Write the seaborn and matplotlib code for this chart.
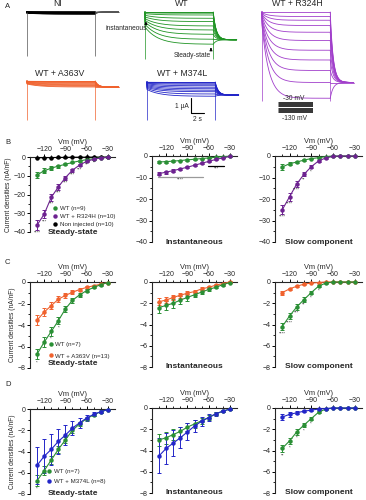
import numpy as np
import pandas as pd
import matplotlib
matplotlib.use("Agg")
import matplotlib.pyplot as plt
from matplotlib.lines import Line2D
import seaborn as sns

# ---- data --------------------------------------------------------------
VM = [-130, -120, -110, -100, -90, -80, -70, -60, -50, -40, -30]

# panel A: trace amplitudes in uA (positive = inward, drawn downward)
ni_inst = [0.06, 0.05, 0.05, 0.04, 0.03, 0.03, 0.02, 0.02, 0.01, 0.0, 0.0]
ni_steady = [0.13, 0.11, 0.1, 0.08, 0.07, 0.05, 0.04, 0.03, 0.02, 0.01, 0.0]
wt_inst = [1.0, 0.82, 0.67, 0.55, 0.44, 0.33, 0.22, 0.11, 0.05, 0.02, 0.0]
wt_steady = [2.15, 1.82, 1.49, 1.2, 0.93, 0.64, 0.42, 0.2, 0.08, 0.02, 0.0]
r324h_inst = [0.9, 0.75, 0.6, 0.5, 0.4, 0.3, 0.2, 0.15, 0.1, 0.05, 0.0]
r324h_steady = [5.75, 4.7, 3.9, 3.2, 2.55, 1.9, 1.35, 0.9, 0.55, 0.3, 0.0]
a363v_inst = [0.2, 0.17, 0.15, 0.12, 0.1, 0.08, 0.06, 0.04, 0.02, 0.01, 0.0]
a363v_steady = [0.4, 0.35, 0.3, 0.25, 0.2, 0.15, 0.1, 0.06, 0.03, 0.01, 0.0]
m374l_inst = [0.5, 0.42, 0.36, 0.3, 0.24, 0.18, 0.12, 0.08, 0.04, 0.02, 0.0]
m374l_steady = [0.95, 0.8, 0.65, 0.55, 0.45, 0.35, 0.25, 0.15, 0.08, 0.03, 0.0]
tail_level = {"NI": 0.0, "WT": 1.85, "R324H": 4.7, "A363V": 0.4, "M374L": 0.87}
tau_act = {"NI": 2.0, "WT": 2.0, "R324H": 1.1, "A363V": 2.0, "M374L": 2.0}
cap_spike = {"NI": 2.9, "WT": 3.1, "R324H": 5.9, "A363V": 2.6, "M374L": 2.5}
PROTOCOL_MV = [-130, -120, -110, -100, -90, -80, -70, -60, -50, -40, -30]

# panel B (nA/nF)
b_ss_wt = [-9.6, -7.3, -6.0, -4.8, -3.9, -2.9, -2.1, -1.4, -0.9, -0.4, -0.2]
b_ss_wt_sem = [1.8, 1.3, 1.0, 0.8, 0.6, 0.5, 0.4, 0.3, 0.2, 0.1, 0.1]
b_ss_mut = [-36.3, -30.5, -21.5, -16.0, -11.0, -7.0, -4.3, -2.3, -1.2, -0.5, -0.2]
b_ss_mut_sem = [2.5, 2.2, 1.8, 1.4, 1.1, 0.8, 0.6, 0.4, 0.3, 0.2, 0.1]
b_ss_ni = [-0.4, -0.35, -0.3, -0.25, -0.2, -0.15, -0.1, -0.1, -0.05, -0.05, 0.0]
b_ss_ni_sem = [0.15, 0.1, 0.1, 0.1, 0.1, 0.05, 0.05, 0.05, 0.05, 0.05, 0.0]
b_in_wt = [-2.8, -2.6, -2.4, -2.1, -1.8, -1.5, -1.2, -0.9, -0.6, -0.3, -0.1]
b_in_wt_sem = [0.5, 0.45, 0.4, 0.35, 0.3, 0.25, 0.2, 0.15, 0.1, 0.1, 0.05]
b_in_mut = [-8.2, -7.5, -6.8, -6.0, -5.2, -4.3, -3.4, -2.5, -1.6, -0.9, -0.2]
b_in_mut_sem = [0.8, 0.7, 0.6, 0.55, 0.5, 0.45, 0.4, 0.3, 0.2, 0.15, 0.1]
b_sl_wt = [-5.1, -3.6, -2.8, -1.9, -1.2, -0.8, -0.3, 0.0, 0.0, 0.0, 0.0]
b_sl_wt_sem = [1.2, 0.8, 0.6, 0.4, 0.3, 0.2, 0.1, 0.0, 0.0, 0.0, 0.0]
b_sl_mut = [-25.0, -19.0, -13.0, -8.5, -5.0, -2.3, -0.9, -0.2, 0.0, 0.0, 0.0]
b_sl_mut_sem = [2.0, 1.7, 1.3, 1.0, 0.8, 0.5, 0.3, 0.1, 0.0, 0.0, 0.0]

# panel C
c_ss_wt = [-6.7, -5.6, -4.6, -3.6, -2.5, -1.7, -1.2, -0.8, -0.5, -0.25, -0.05]
c_ss_wt_sem = [0.5, 0.45, 0.4, 0.35, 0.3, 0.25, 0.2, 0.15, 0.1, 0.08, 0.05]
c_ss_mut = [-3.55, -2.8, -2.2, -1.6, -1.25, -0.95, -0.7, -0.5, -0.35, -0.2, -0.05]
c_ss_mut_sem = [0.45, 0.4, 0.35, 0.3, 0.25, 0.2, 0.15, 0.12, 0.1, 0.08, 0.05]
c_in_wt = [-2.4, -2.2, -2.0, -1.7, -1.45, -1.2, -0.95, -0.7, -0.5, -0.25, -0.05]
c_in_wt_sem = [0.5, 0.45, 0.4, 0.35, 0.3, 0.25, 0.2, 0.15, 0.1, 0.08, 0.05]
c_in_mut = [-1.85, -1.7, -1.45, -1.25, -1.05, -0.9, -0.65, -0.5, -0.3, -0.15, 0.0]
c_in_mut_sem = [0.3, 0.28, 0.25, 0.22, 0.2, 0.18, 0.15, 0.12, 0.1, 0.08, 0.05]
c_sl_wt = [-4.2, -3.2, -2.35, -1.65, -1.0, -0.4, -0.1, 0.0, 0.0, 0.0, 0.0]
c_sl_wt_sem = [0.35, 0.3, 0.25, 0.2, 0.15, 0.1, 0.05, 0.0, 0.0, 0.0, 0.0]
c_sl_mut = [-1.0, -0.65, -0.4, -0.2, -0.1, -0.05, 0.0, 0.0, 0.0, 0.0, 0.0]
c_sl_mut_sem = [0.2, 0.12, 0.08, 0.05, 0.04, 0.03, 0.0, 0.0, 0.0, 0.0, 0.0]

# panel D
d_ss_wt = [-6.75, -5.8, -4.8, -3.8, -2.9, -2.0, -1.4, -0.9, -0.55, -0.25, -0.05]
d_ss_wt_sem = [0.5, 0.45, 0.4, 0.35, 0.3, 0.25, 0.2, 0.15, 0.1, 0.08, 0.05]
d_ss_mut = [-5.3, -4.45, -3.8, -3.05, -2.45, -1.8, -1.3, -0.85, -0.5, -0.25, -0.05]
d_ss_mut_sem = [1.75, 1.6, 1.45, 1.2, 0.9, 0.65, 0.45, 0.3, 0.2, 0.12, 0.05]
d_in_wt = [-3.0, -2.8, -2.5, -2.2, -1.8, -1.5, -1.2, -0.9, -0.55, -0.3, -0.1]
d_in_wt_sem = [0.6, 0.55, 0.5, 0.45, 0.4, 0.35, 0.3, 0.2, 0.15, 0.1, 0.05]
d_in_mut = [-4.5, -3.8, -3.3, -2.8, -2.25, -1.7, -1.25, -0.9, -0.55, -0.3, -0.1]
d_in_mut_sem = [1.65, 1.45, 1.2, 1.0, 0.8, 0.6, 0.45, 0.3, 0.2, 0.12, 0.05]
d_sl_wt = [-3.8, -3.1, -2.25, -1.6, -1.0, -0.4, -0.1, 0.0, 0.0, 0.0, 0.0]
d_sl_wt_sem = [0.35, 0.3, 0.25, 0.2, 0.15, 0.1, 0.05, 0.0, 0.0, 0.0, 0.0]
d_sl_mut = [-0.85, -0.6, -0.45, -0.3, -0.2, -0.1, -0.05, 0.0, 0.0, 0.0, 0.0]
d_sl_mut_sem = [0.3, 0.2, 0.15, 0.1, 0.08, 0.05, 0.03, 0.0, 0.0, 0.0, 0.0]

# significance stars under points
b_ss_stars = ["****", "***", "***", "***", "***", "***", "***", "**", "*", "", ""]
b_sl_stars = ["****", "****", "****", "**", "*", "", "", "", "", "", ""]
c_ss_stars = ["*", "", "*", "*", "", "", "", "", "", "", ""]
c_sl_stars = ["****", "****", "***", "**", "*", "*", "", "", "", "", ""]
d_ss_stars = ["*", "", "", "", "", "", "", "", "", "", ""]
d_sl_stars = ["**", "*", "*", "*", "*", "", "", "", "", "", ""]
# B instantaneous comparison bars: (from mV, to mV, level, stars, colour)
b_in_bars = [(-131, -68, -9.8, "****", "#9a9a9a"), (-61, -38, -4.6, "***", "black")]

GREEN = "#2a8f35"
PURPLE = "#6d2290"
ORANGE = "#f0622e"
BLUE = "#2326c8"
TR_GREEN = "#1f9424"
TR_PURPLE = "#a13fcb"

# ---- figure ------------------------------------------------------------
sns.set_theme(style="ticks")
plt.rcParams["font.family"] = ["Liberation Sans", "DejaVu Sans"]
plt.rcParams["axes.linewidth"] = 0.8

W, H = 366, 500
fig = plt.figure(figsize=(W / 100, H / 100), dpi=100)
fig.patch.set_facecolor("white")


def px_axes(left, top, right, bottom):
    ax = fig.add_axes([left / W, 1 - bottom / H, (right - left) / W, (bottom - top) / H])
    ax.set_facecolor("none")
    return ax


def ftext(x, y, s, **kw):
    fig.text(x / W, 1 - y / H, s, **kw)


# ---- panel A: current traces --------------------------------------------
PX_S, PX_UA = 6.5, 15.0
T_PULSE, T_TAIL = 10.5, 3.6
t_on = np.linspace(0, T_PULSE, 200)
t_off = np.linspace(T_PULSE, T_PULSE + T_TAIL, 80)


def trace_axes(ox, oy):
    x0, x1, y0, y1 = -1.0, 15.0, -6.5, 0.5
    ax = px_axes(ox + x0 * PX_S, oy - y1 * PX_UA, ox + x1 * PX_S, oy - y0 * PX_UA)
    ax.set_xlim(x0, x1)
    ax.set_ylim(y0, y1)
    ax.axis("off")
    return ax


def draw_traces(ax, key, inst, steady, color, lw=0.6, tail_lw=None, tail_color=None):
    tau = tau_act[key]
    for a0, a1 in zip(inst, steady):
        on = -(a1 + (a0 - a1) * np.exp(-t_on / tau))
        off = -(tail_level[key] + (a1 - tail_level[key]) * np.exp(-(t_off - T_PULSE) / 0.45))
        ax.plot(np.r_[0, t_on], np.r_[0, on], color=color, lw=lw)
        ax.plot(t_off, off, color=tail_color or color, lw=tail_lw or lw)
    ax.vlines([0, T_PULSE], -cap_spike[key], 0, color=tail_color or color, lw=0.5)


ax_ni = trace_axes(27, 12)
draw_traces(ax_ni, "NI", ni_inst, ni_steady, "black", lw=1.0, tail_lw=0.5, tail_color="#555555")

ax_wt = trace_axes(145, 12)
draw_traces(ax_wt, "WT", wt_inst, wt_steady, TR_GREEN)
ax_wt.annotate("", xy=(0.15, -0.45), xytext=(0.15, -1.0),
               arrowprops=dict(arrowstyle="-|>", color="black", lw=0.6, mutation_scale=4))
ax_wt.text(0.3, -1.1, "instantaneous", ha="right", va="center", fontsize=4.8)
ax_wt.annotate("", xy=(10.15, -2.2), xytext=(10.15, -2.65),
               arrowprops=dict(arrowstyle="-|>", color="black", lw=0.6, mutation_scale=4))
ax_wt.text(7.2, -2.87, "Steady-state", ha="center", va="center", fontsize=4.8)

ax_r = trace_axes(262, 12)
draw_traces(ax_r, "R324H", r324h_inst, r324h_steady, TR_PURPLE)

ax_a = trace_axes(27, 81)
draw_traces(ax_a, "A363V", a363v_inst, a363v_steady, ORANGE)

ax_m = trace_axes(147, 82)
draw_traces(ax_m, "M374L", m374l_inst, m374l_steady, BLUE)
# scale bar: 1 uA, 2 s
ax_m.plot([6.8, 6.8, 8.8], [-1.07, -2.07, -2.07], color="black", lw=0.8)
ax_m.text(6.4, -1.6, "1 µA", ha="right", va="center", fontsize=4.8)
ax_m.text(7.8, -2.25, "2 s", ha="center", va="top", fontsize=4.8)

# voltage protocol sketch
ax_p = px_axes(278, 102, 313, 113)
ax_p.hlines(PROTOCOL_MV, 0, 1, color="#333333", lw=0.7)
ax_p.set_xlim(0, 1)
ax_p.set_ylim(-133, -27)
ax_p.axis("off")
ftext(294, 98, "-30 mV", ha="center", va="center", fontsize=4.8)
ftext(295, 118, "-130 mV", ha="center", va="center", fontsize=4.8)

ftext(58, 4, "NI", ha="center", va="center", fontsize=6.3)
ftext(182, 4, "WT", ha="center", va="center", fontsize=6.3)
ftext(297, 4, "WT + R324H", ha="center", va="center", fontsize=6.3)
ftext(60, 73, "WT + A363V", ha="center", va="center", fontsize=6.3)
ftext(182, 73, "WT + M374L", ha="center", va="center", fontsize=6.3)


# ---- panels B-D: I/V curves ----------------------------------------------
def iv_axes(rect, ymin, ystep, title, series, stars=None, ylabel=False, title_y=0.0):
    ax = px_axes(*rect)
    for mean, sem, color in series:
        ax.errorbar(VM, mean, yerr=sem, fmt="none", ecolor=color, elinewidth=0.7,
                    capsize=1.3, capthick=0.7, clip_on=False, zorder=2)
        df = pd.DataFrame({"Vm": VM, "I": mean})
        sns.lineplot(data=df, x="Vm", y="I", color=color, marker="o", markersize=3.2,
                     markeredgewidth=0, linewidth=0.8, ax=ax, clip_on=False, zorder=3)
    if stars is not None:
        idx, labels = stars
        mean, sem, _ = series[idx]
        for v, m, e, s in zip(VM, mean, sem, labels):
            if s:
                ax.annotate(s, (v, m - e), xytext=(0, -0.8), textcoords="offset points",
                            ha="center", va="top", fontsize=3.2)
    ax.set_xlim(-140, -20)
    ax.set_ylim(ymin, 0)
    ax.xaxis.tick_top()
    ax.xaxis.set_label_position("top")
    ax.set_xticks([-120, -90, -60, -30])
    ax.set_xticks(list(range(-130, -20, 10)), minor=True)
    ax.set_yticks(list(range(ymin, 1, ystep)))
    ax.set_yticks([y / 2 for y in range(2 * ymin, 1, ystep)], minor=True)
    ax.set_xlabel("Vm (mV)", fontsize=5.3, labelpad=1)
    ax.set_ylabel("Current densities (nA/nF)" if ylabel else "", fontsize=4.8, labelpad=1)
    ax.spines["right"].set_visible(False)
    ax.spines["bottom"].set_visible(False)
    ax.tick_params(which="major", labelsize=5, length=2, width=0.7, pad=1, color="black")
    ax.tick_params(which="minor", length=1.2, width=0.6, color="black")
    ax.tick_params(axis="x", which="both", top=True, bottom=False)
    ax.text(0.5, title_y, title, transform=ax.transAxes, ha="center", va="center",
            fontsize=6, fontweight="bold")
    return ax


def add_legend(ax, entries, anchor, spacing):
    handles = [Line2D([], [], marker="o", color=c, ls="none", markersize=3.2,
                      markeredgewidth=0, label=l) for l, c in entries]
    ax.legend(handles=handles, loc="lower left", bbox_to_anchor=anchor, frameon=False,
              fontsize=4.4, handlelength=0.8, handletextpad=0.3, labelspacing=spacing,
              borderpad=0, borderaxespad=0)


C1, C2, C3 = (30, 115), (152, 237), (275, 362)

# B
ax = iv_axes((C1[0], 157, C1[1], 232), -40, 10, "Steady-state",
             [(b_ss_ni, b_ss_ni_sem, "black"), (b_ss_wt, b_ss_wt_sem, GREEN),
              (b_ss_mut, b_ss_mut_sem, PURPLE)], stars=(2, b_ss_stars), ylabel=True,
             title_y=-0.01)
add_legend(ax, [("WT (n=9)", GREEN), ("WT + R324H (n=10)", PURPLE),
                ("Non injected (n=10)", "black")], (0.27, 0.07), 0.45)
ax = iv_axes((C2[0], 156, C2[1], 242), -40, 10, "Instantaneous",
             [(b_in_wt, b_in_wt_sem, GREEN), (b_in_mut, b_in_mut_sem, PURPLE)])
for x0, x1, lvl, s, col in b_in_bars:
    ax.plot([x0, x1], [lvl, lvl], color=col, lw=0.9)
    ax.annotate(s, ((x0 + x1) / 2, lvl), xytext=(0, -0.8), textcoords="offset points",
                ha="center", va="top", fontsize=3.2)
iv_axes((C3[0], 156, C3[1], 242), -40, 10, "Slow component",
        [(b_sl_wt, b_sl_wt_sem, GREEN), (b_sl_mut, b_sl_mut_sem, PURPLE)], stars=(1, b_sl_stars))

# C
ax = iv_axes((C1[0], 282, C1[1], 368), -8, 2, "Steady-state",
             [(c_ss_mut, c_ss_mut_sem, ORANGE), (c_ss_wt, c_ss_wt_sem, GREEN)],
             stars=(1, c_ss_stars), ylabel=True, title_y=0.05)
add_legend(ax, [("WT (n=7)", GREEN), ("WT + A363V (n=13)", ORANGE)], (0.22, 0.11), 0.95)
iv_axes((C2[0], 282, C2[1], 367), -8, 2, "Instantaneous",
        [(c_in_mut, c_in_mut_sem, ORANGE), (c_in_wt, c_in_wt_sem, GREEN)], title_y=0.01)
iv_axes((C3[0], 282, C3[1], 367), -8, 2, "Slow component",
        [(c_sl_mut, c_sl_mut_sem, ORANGE), (c_sl_wt, c_sl_wt_sem, GREEN)], stars=(1, c_sl_stars),
        title_y=0.01)

# D
ax = iv_axes((C1[0], 409, C1[1], 494), -8, 2, "Steady-state",
             [(d_ss_wt, d_ss_wt_sem, GREEN), (d_ss_mut, d_ss_mut_sem, BLUE)],
             stars=(0, d_ss_stars), ylabel=True, title_y=0.01)
add_legend(ax, [("WT (n=7)", GREEN), ("WT + M374L (n=8)", BLUE)], (0.2, 0.12), 0.7)
iv_axes((C2[0], 408, C2[1], 493), -8, 2, "Instantaneous",
        [(d_in_wt, d_in_wt_sem, GREEN), (d_in_mut, d_in_mut_sem, BLUE)], title_y=0.01)
iv_axes((C3[0], 408, C3[1], 493), -8, 2, "Slow component",
        [(d_sl_wt, d_sl_wt_sem, GREEN), (d_sl_mut, d_sl_mut_sem, BLUE)], stars=(0, d_sl_stars),
        title_y=0.01)

for letter, y in [("A", 6), ("B", 143), ("C", 262), ("D", 384)]:
    ftext(5, y, letter, ha="left", va="center", fontsize=5.5)

fig.savefig("out.png", dpi=100)
